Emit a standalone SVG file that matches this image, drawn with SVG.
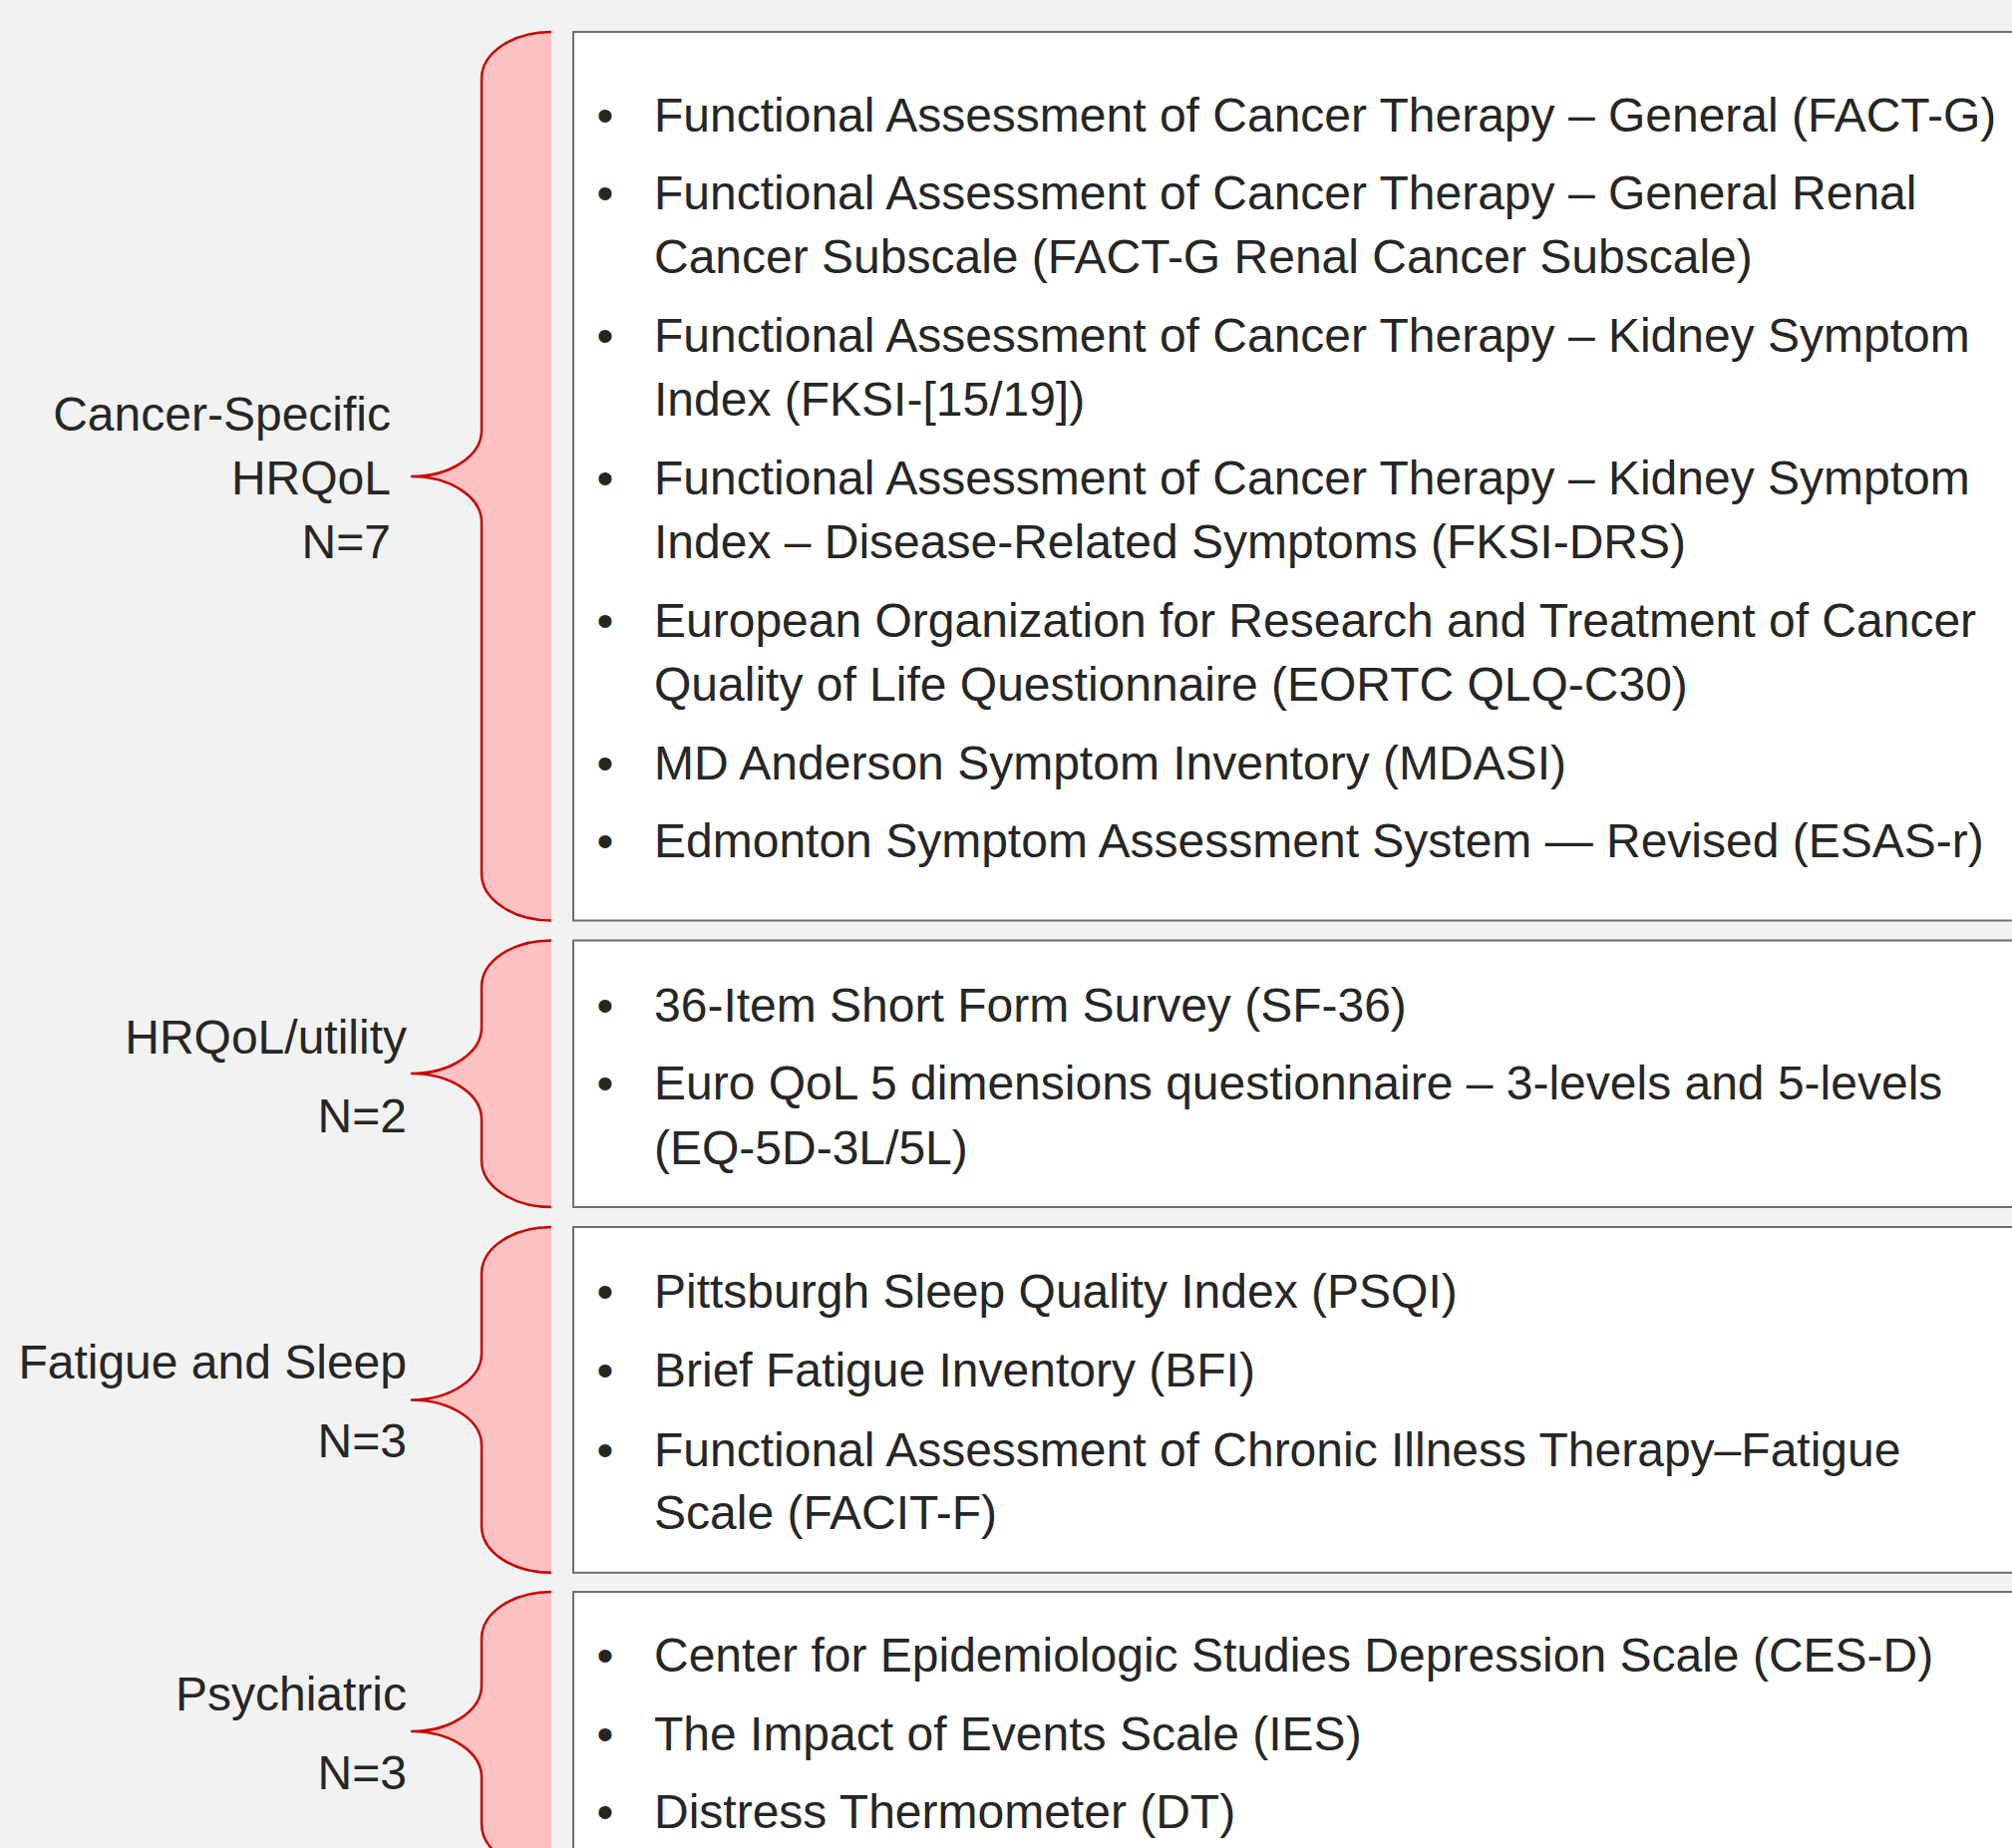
<svg xmlns="http://www.w3.org/2000/svg" width="2018" height="1854" viewBox="0 0 2018 1854">
<style>
.bg{fill:#F2F2F2}
.box{fill:#FFFFFF;stroke:#6E6E6E;stroke-width:2}
.brace{fill:#FFC2C2;stroke:#CC0000;stroke-width:2.5;stroke-linejoin:round}
text{font-family:"Liberation Sans",Arial,sans-serif;font-size:48px;fill:#262626}
.lbl{text-anchor:end}
.bul{text-anchor:middle}
</style>
<rect class="bg" x="0" y="0" width="2018" height="1854"/>
<g id="connectors">
<path class="brace" d="M553,32 C514,32 483,53 483,79 L483,432 C483,457 452,478 413,478 C452,478 483,499 483,524 L483,876.5 C483,902 514,923.5 553,923.5"/>
<path class="brace" d="M553,943.5 C514,943.5 483,964 483,990 L483,1031 C483,1056 452,1077 413,1077 C452,1077 483,1098 483,1123 L483,1164 C483,1190 514,1211 553,1211"/>
<path class="brace" d="M553,1231 C514,1231 483,1252 483,1278 L483,1358 C483,1383 452,1404.4 413,1404.4 C452,1404.4 483,1425 483,1450 L483,1531 C483,1557 514,1577.8 553,1577.8"/>
<path class="brace" d="M553,1597 C514,1597 483,1618 483,1644 L483,1691 C483,1716 452,1737 413,1737 C452,1737 483,1758 483,1783 L483,1830 C483,1856 514,1877 553,1877"/>
</g>
<g id="cancer-specific">
<text class="lbl" x="392" y="432">Cancer-Specific</text>
<text class="lbl" x="392" y="496">HRQoL</text>
<text class="lbl" x="392" y="560">N=7</text>
<rect class="box" x="575" y="32" width="1460" height="891.5"/>
<text class="bul" x="607" y="131.5">•</text>
<text x="656" y="131.5">Functional Assessment of Cancer Therapy – General (FACT-G)</text>
<text class="bul" x="607" y="210">•</text>
<text x="656" y="210">Functional Assessment of Cancer Therapy – General Renal</text>
<text x="656" y="274">Cancer Subscale (FACT-G Renal Cancer Subscale)</text>
<text class="bul" x="607" y="353">•</text>
<text x="656" y="353">Functional Assessment of Cancer Therapy – Kidney Symptom</text>
<text x="656" y="417">Index (FKSI-[15/19])</text>
<text class="bul" x="607" y="496">•</text>
<text x="656" y="496">Functional Assessment of Cancer Therapy – Kidney Symptom</text>
<text x="656" y="560">Index – Disease-Related Symptoms (FKSI-DRS)</text>
<text class="bul" x="607" y="639">•</text>
<text x="656" y="639">European Organization for Research and Treatment of Cancer</text>
<text x="656" y="703">Quality of Life Questionnaire (EORTC QLQ-C30)</text>
<text class="bul" x="607" y="782">•</text>
<text x="656" y="782">MD Anderson Symptom Inventory (MDASI)</text>
<text class="bul" x="607" y="860">•</text>
<text x="656" y="860">Edmonton Symptom Assessment System — Revised (ESAS-r)</text>
</g>
<g id="hrqol-utility">
<text class="lbl" x="408" y="1057">HRQoL/utility</text>
<text class="lbl" x="408" y="1136">N=2</text>
<rect class="box" x="575" y="943.5" width="1460" height="267.5"/>
<text class="bul" x="607" y="1025">•</text>
<text x="656" y="1025">36-Item Short Form Survey (SF-36)</text>
<text class="bul" x="607" y="1103">•</text>
<text x="656" y="1103">Euro QoL 5 dimensions questionnaire – 3-levels and 5-levels</text>
<text x="656" y="1168">(EQ-5D-3L/5L)</text>
</g>
<g id="fatigue-sleep">
<text class="lbl" x="408" y="1382.5">Fatigue and Sleep</text>
<text class="lbl" x="408" y="1461.5">N=3</text>
<rect class="box" x="575" y="1231" width="1460" height="346.8"/>
<text class="bul" x="607" y="1312">•</text>
<text x="656" y="1312">Pittsburgh Sleep Quality Index (PSQI)</text>
<text class="bul" x="607" y="1391">•</text>
<text x="656" y="1391">Brief Fatigue Inventory (BFI)</text>
<text class="bul" x="607" y="1470.5">•</text>
<text x="656" y="1470.5">Functional Assessment of Chronic Illness Therapy–Fatigue</text>
<text x="656" y="1534">Scale (FACIT-F)</text>
</g>
<g id="psychiatric">
<text class="lbl" x="408" y="1715.5">Psychiatric</text>
<text class="lbl" x="408" y="1795">N=3</text>
<rect class="box" x="575" y="1597" width="1460" height="300"/>
<text class="bul" x="607" y="1677">•</text>
<text x="656" y="1677">Center for Epidemiologic Studies Depression Scale (CES-D)</text>
<text class="bul" x="607" y="1756">•</text>
<text x="656" y="1756">The Impact of Events Scale (IES)</text>
<text class="bul" x="607" y="1834">•</text>
<text x="656" y="1834">Distress Thermometer (DT)</text>
</g>
</svg>
